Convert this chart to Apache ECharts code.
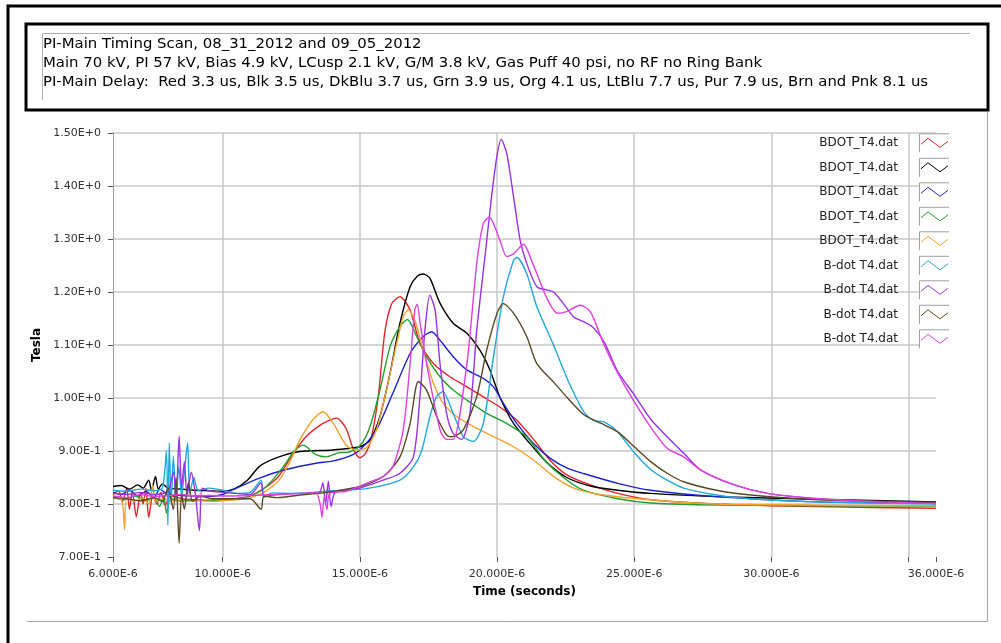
<!DOCTYPE html>
<html><head><meta charset="utf-8">
<script src="https://cdn.jsdelivr.net/npm/echarts@6.0.0/dist/echarts.min.js"></script>
<style>html,body{margin:0;padding:0;background:#fff}#c{width:1001px;height:643px}</style>
</head><body><div id="c"></div>
<script>
const titleLines = [
  'PI-Main Timing Scan, 08_31_2012 and 09_05_2012',
  'Main 70 kV, PI 57 kV, Bias 4.9 kV, LCusp 2.1 kV, G/M 3.8 kV, Gas Puff 40 psi, no RF no Ring Bank',
  'PI-Main Delay:  Red 3.3 us, Blk 3.5 us, DkBlu 3.7 us, Grn 3.9 us, Org 4.1 us, LtBlu 7.7 us, Pur 7.9 us, Brn and Pnk 8.1 us'
];
const xAxisTitle = 'Time (seconds)';
const yAxisTitle = 'Tesla';
const xTickValues = [6, 10, 15, 20, 25, 30, 35, 36];
const xLabelValues = [6, 10, 15, 20, 25, 30, 36];
const yMin = 0.7, yMax = 1.5, yStep = 0.1;

const seriesNames = ['Red', 'Black', 'DkBlu', 'Grn', 'Org', 'LtBlu', 'Pur', 'Brn', 'Pnk'];
const legendLabels = ['BDOT_T4.dat', 'BDOT_T4.dat', 'BDOT_T4.dat', 'BDOT_T4.dat', 'BDOT_T4.dat',
  'B-dot T4.dat', 'B-dot T4.dat', 'B-dot T4.dat', 'B-dot T4.dat'];
const seriesColors = ['#e5232a', '#000000', '#1f22cc', '#22a02e', '#f2a42a', '#22a8e0', '#9a32e6', '#5a4a22', '#e040e0'];

// [time in microseconds, Tesla]
const red = [[6.0,0.818],[6.2,0.825],[6.35,0.805],[6.5,0.83],[6.6,0.79],[6.7,0.825],[6.85,0.776],[7.0,0.822],[7.1,0.80],[7.2,0.83],[7.3,0.775],[7.45,0.815],[7.6,0.80],[7.75,0.822],[7.9,0.797],[8.1,0.815],[8.5,0.81],[9.0,0.808],[9.5,0.807],[10.0,0.808],[10.6,0.811],[11.0,0.815],[11.6,0.833],[12.0,0.85],[12.3,0.873],[12.7,0.905],[13.05,0.928],[13.5,0.947],[13.8,0.956],[14.15,0.962],[14.5,0.942],[14.75,0.905],[15.0,0.887],[15.2,0.895],[15.4,0.92],[15.67,1.003],[15.91,1.125],[16.16,1.178],[16.46,1.191],[16.83,1.166],[17.19,1.103],[17.68,1.065],[18.28,1.04],[18.9,1.021],[19.5,1.002],[20.1,0.983],[20.72,0.958],[21.33,0.922],[21.94,0.882],[22.54,0.855],[23.4,0.836],[24.4,0.82],[25.6,0.808],[28.0,0.80],[31.7,0.795],[36.0,0.792]];
const black = [[6.0,0.833],[6.3,0.835],[6.6,0.828],[6.9,0.836],[7.1,0.83],[7.3,0.845],[7.4,0.826],[7.55,0.852],[7.65,0.828],[7.8,0.838],[8.0,0.83],[8.5,0.828],[9.0,0.826],[9.5,0.825],[10.0,0.824],[10.4,0.828],[10.9,0.845],[11.34,0.871],[11.95,0.887],[12.8,0.899],[14.0,0.902],[15.0,0.908],[15.36,0.92],[15.73,0.965],[16.1,1.047],[16.46,1.141],[16.83,1.21],[17.1,1.23],[17.31,1.234],[17.55,1.226],[17.92,1.179],[18.4,1.141],[18.9,1.122],[19.38,1.09],[19.74,1.053],[20.1,1.002],[20.6,0.952],[21.2,0.914],[21.8,0.879],[22.54,0.85],[23.4,0.834],[24.4,0.826],[25.6,0.82],[28.0,0.814],[31.7,0.809],[36.0,0.804]];
const blue = [[6.0,0.822],[6.3,0.818],[6.6,0.826],[6.9,0.815],[7.2,0.824],[7.5,0.812],[7.7,0.828],[8.0,0.818],[8.5,0.816],[9.0,0.815],[9.5,0.814],[10.0,0.818],[10.37,0.827],[11.34,0.849],[12.3,0.865],[13.4,0.877],[14.0,0.881],[14.6,0.89],[15.0,0.902],[15.6,0.94],[16.2,1.009],[16.83,1.084],[17.31,1.116],[17.62,1.125],[17.92,1.109],[18.4,1.078],[18.9,1.053],[19.5,1.037],[19.87,1.021],[20.23,0.99],[20.72,0.952],[21.33,0.914],[21.94,0.886],[22.54,0.868],[23.18,0.857],[24.4,0.839],[25.6,0.826],[28.0,0.814],[31.7,0.804],[36.0,0.802]];
const green = [[6.0,0.812],[6.4,0.808],[6.8,0.815],[7.2,0.806],[7.5,0.812],[7.7,0.795],[7.85,0.815],[7.95,0.783],[8.1,0.81],[8.5,0.806],[9.0,0.807],[9.5,0.806],[10.0,0.808],[10.8,0.812],[11.4,0.825],[11.83,0.846],[12.3,0.877],[12.6,0.9],[12.93,0.911],[13.4,0.893],[13.78,0.889],[14.27,0.897],[14.5,0.897],[15.0,0.91],[15.36,0.945],[15.73,1.015],[16.1,1.097],[16.46,1.135],[16.73,1.148],[17.07,1.116],[17.43,1.078],[17.92,1.04],[18.4,1.015],[18.9,0.996],[19.62,0.971],[20.35,0.952],[21.08,0.927],[21.7,0.885],[22.42,0.85],[23.15,0.826],[24.4,0.81],[25.6,0.802],[28.0,0.798],[36.0,0.796]];
const orange = [[6.0,0.812],[6.2,0.815],[6.35,0.80],[6.42,0.752],[6.5,0.81],[6.8,0.806],[7.1,0.812],[7.3,0.80],[7.45,0.835],[7.55,0.805],[7.8,0.81],[8.2,0.806],[8.7,0.805],[9.2,0.806],[9.7,0.805],[10.0,0.806],[10.8,0.81],[11.5,0.822],[12.07,0.846],[12.5,0.885],[12.8,0.92],[13.3,0.96],[13.66,0.974],[14.03,0.952],[14.5,0.911],[14.88,0.902],[15.24,0.906],[15.6,0.94],[15.97,1.015],[16.34,1.103],[16.58,1.153],[16.76,1.166],[17.0,1.147],[17.31,1.09],[17.68,1.028],[18.04,0.99],[18.53,0.965],[19.14,0.946],[19.87,0.927],[20.6,0.908],[21.33,0.883],[22.06,0.852],[22.79,0.83],[23.76,0.818],[25.58,0.808],[28.0,0.80],[36.0,0.797]];
const lightBlue = [[6.0,0.826],[6.5,0.824],[7.0,0.828],[7.5,0.825],[7.8,0.83],[7.95,0.90],[8.0,0.76],[8.05,0.915],[8.12,0.80],[8.2,0.89],[8.3,0.81],[8.4,0.87],[8.5,0.815],[8.6,0.86],[8.72,0.915],[8.8,0.82],[8.95,0.85],[9.1,0.826],[9.5,0.83],[10.0,0.826],[10.5,0.82],[11.0,0.822],[11.4,0.845],[11.5,0.812],[11.8,0.821],[12.5,0.82],[13.3,0.822],[14.0,0.825],[15.24,0.829],[16.46,0.845],[16.95,0.87],[17.25,0.90],[17.55,0.965],[17.8,1.003],[18.02,1.012],[18.4,0.971],[18.77,0.927],[19.14,0.918],[19.5,0.952],[19.87,1.078],[20.23,1.191],[20.6,1.26],[20.72,1.265],[21.08,1.235],[21.45,1.172],[22.06,1.10],[22.57,1.035],[23.15,0.975],[23.5,0.958],[23.9,0.955],[24.4,0.936],[24.98,0.898],[25.6,0.865],[26.2,0.845],[26.8,0.83],[28.0,0.817],[29.25,0.81],[31.7,0.804],[36.0,0.80]];
const purple = [[6.0,0.82],[6.5,0.818],[7.0,0.822],[7.5,0.818],[8.0,0.824],[8.2,0.86],[8.3,0.81],[8.41,0.928],[8.5,0.83],[8.6,0.88],[8.7,0.815],[8.85,0.86],[9.0,0.82],[9.15,0.75],[9.25,0.83],[9.5,0.825],[10.0,0.822],[10.5,0.82],[11.0,0.818],[11.4,0.84],[11.5,0.815],[12.0,0.818],[12.8,0.82],[13.5,0.82],[13.65,0.84],[13.75,0.80],[13.85,0.843],[13.95,0.795],[14.1,0.822],[15.0,0.83],[15.85,0.845],[16.46,0.858],[16.95,0.889],[17.19,1.003],[17.37,1.128],[17.55,1.194],[17.74,1.166],[17.92,1.065],[18.16,0.971],[18.4,0.933],[18.71,0.922],[19.01,0.971],[19.26,1.128],[19.56,1.267],[19.8,1.38],[19.99,1.455],[20.15,1.488],[20.35,1.462],[20.6,1.38],[20.84,1.298],[21.08,1.254],[21.45,1.21],[21.82,1.204],[22.06,1.20],[22.42,1.178],[22.79,1.153],[23.15,1.144],[23.5,1.133],[23.9,1.106],[24.4,1.05],[25.0,1.006],[25.6,0.96],[26.2,0.927],[26.8,0.896],[27.43,0.864],[28.65,0.836],[29.86,0.82],[31.7,0.81],[34.1,0.804],[36.0,0.801]];
const brown = [[6.0,0.812],[6.5,0.81],[7.0,0.806],[7.5,0.812],[7.8,0.805],[8.0,0.83],[8.2,0.79],[8.3,0.85],[8.41,0.726],[8.5,0.82],[8.6,0.79],[8.75,0.84],[8.9,0.805],[9.2,0.815],[9.6,0.81],[10.0,0.81],[11.0,0.81],[11.4,0.79],[11.5,0.815],[12.0,0.812],[12.8,0.817],[13.5,0.82],[14.2,0.825],[15.0,0.833],[15.85,0.852],[16.46,0.889],[16.83,0.952],[17.13,1.031],[17.43,1.015],[17.8,0.965],[18.16,0.93],[18.34,0.927],[18.77,0.94],[19.26,1.003],[19.62,1.09],[20.0,1.16],[20.23,1.178],[20.6,1.16],[21.08,1.116],[21.45,1.065],[22.06,1.03],[22.57,1.0],[23.18,0.968],[23.8,0.952],[24.4,0.936],[25.0,0.908],[25.6,0.88],[26.2,0.858],[26.8,0.842],[28.0,0.826],[29.25,0.817],[31.7,0.808],[36.0,0.803]];
const pink = [[6.0,0.815],[6.5,0.812],[7.0,0.818],[7.5,0.814],[8.0,0.816],[8.5,0.818],[9.0,0.815],[9.5,0.816],[10.0,0.815],[11.0,0.816],[12.0,0.818],[13.0,0.82],[13.4,0.822],[13.55,0.80],[13.62,0.775],[13.7,0.815],[13.8,0.79],[13.9,0.82],[14.5,0.824],[15.24,0.839],[15.85,0.852],[16.2,0.87],[16.58,0.94],[16.83,1.065],[17.0,1.166],[17.09,1.177],[17.2,1.14],[17.43,1.065],[17.92,0.94],[18.16,0.922],[18.4,0.922],[18.9,1.065],[19.26,1.254],[19.5,1.33],[19.72,1.341],[20.1,1.298],[20.35,1.267],[20.6,1.272],[20.96,1.29],[21.3,1.254],[21.8,1.19],[22.2,1.16],[22.54,1.163],[23.03,1.175],[23.4,1.163],[23.88,1.103],[24.4,1.047],[25.0,0.993],[25.6,0.945],[26.2,0.905],[26.8,0.889],[27.43,0.864],[28.65,0.836],[29.86,0.82],[31.7,0.81],[34.1,0.804],[36.0,0.801]];
const seriesData = [red, black, blue, green, orange, lightBlue, purple, brown, pink];

const FONT = 'DejaVu Sans';
const chart = echarts.init(document.getElementById('c'), null, {renderer: 'canvas'});

function fmtY(v) {
  if (v >= 0.9999) return v.toFixed(2) + 'E+0';
  return (v * 10).toFixed(2) + 'E-1';
}
function fmtX(v) { return v.toFixed(3) + 'E-6'; }

// frame + legend graphics
const graphics = [
  {type: 'rect', z: 0, shape: {x: 8, y: 6, width: 1100, height: 700}, style: {fill: null, stroke: '#000', lineWidth: 3}},
  {type: 'rect', z: 0, shape: {x: 26, y: 24, width: 962, height: 86}, style: {fill: null, stroke: '#000', lineWidth: 3}},
  {type: 'polyline', z: 0, shape: {points: [[42.5, 100], [42.5, 33.5], [970, 33.5]]}, style: {fill: null, stroke: '#b0b0b0', lineWidth: 1}},
  {type: 'polyline', z: 0, shape: {points: [[27, 621.5], [987.5, 621.5], [987.5, 112]]}, style: {fill: null, stroke: '#a8a8a8', lineWidth: 1}}
];
seriesNames.forEach((n, i) => {
  const c = 143.3 + i * 24.5;
  graphics.push({type: 'text', z: 50, style: {x: 898, y: c, text: legendLabels[i], align: 'right', verticalAlign: 'middle', font: '12px "' + FONT + '"', fill: '#222'}});
  graphics.push({type: 'rect', z: 50, shape: {x: 919.5, y: c - 9.5, width: 30, height: 18}, style: {fill: '#fff', stroke: null}});
  graphics.push({type: 'polyline', z: 51, shape: {points: [[919.5, c + 9], [919.5, c - 9.5], [949, c - 9.5]]}, style: {fill: null, stroke: '#a0a0a0', lineWidth: 1}});
  graphics.push({type: 'polyline', z: 51, shape: {points: [[921, c + 1], [928, c - 5], [940, c + 4], [948, c - 2]]}, style: {fill: null, stroke: seriesColors[i], lineWidth: 1}});
});

const option = {
  animation: false,
  backgroundColor: '#fff',
  textStyle: {fontFamily: FONT},
  title: {
    text: titleLines.join('\n'),
    left: 43, top: 35, padding: 0,
    textStyle: {fontFamily: FONT, fontSize: 14.9, fontWeight: 'normal', color: '#000', lineHeight: 19}
  },
  grid: {left: 113, top: 133, width: 823, height: 424, containLabel: false},
  xAxis: {
    type: 'value', min: 6, max: 36,
    name: xAxisTitle, nameLocation: 'middle', nameGap: 29,
    nameTextStyle: {fontFamily: FONT, fontSize: 12, fontWeight: 'bold', color: '#000'},
    axisLine: {show: false},
    axisTick: {show: true, customValues: xTickValues, length: 5, lineStyle: {color: '#555'}},
    axisLabel: {customValues: xLabelValues, formatter: fmtX, margin: 12, color: '#333', fontSize: 11, fontFamily: FONT},
    splitLine: {show: true, lineStyle: {color: ['rgba(0,0,0,0)', '#c8c8c8', '#c8c8c8', '#c8c8c8', '#c8c8c8', '#c8c8c8', '#c8c8c8', 'rgba(0,0,0,0)'], width: 1.5}}
  },
  yAxis: {
    type: 'value', min: yMin, max: yMax, interval: yStep,
    name: yAxisTitle, nameLocation: 'middle', nameGap: 62, nameRotate: 90,
    nameTextStyle: {fontFamily: FONT, fontSize: 12, fontWeight: 'bold', color: '#000'},
    axisLine: {show: true, lineStyle: {color: '#a0a0a0', width: 1}},
    axisTick: {show: true, length: 5, lineStyle: {color: '#555'}},
    axisLabel: {formatter: fmtY, margin: 12, color: '#333', fontSize: 11, fontFamily: FONT},
    splitLine: {show: true, lineStyle: {color: ['rgba(0,0,0,0)', '#c8c8c8', '#c8c8c8', '#c8c8c8', '#c8c8c8', '#c8c8c8', '#c8c8c8', '#c8c8c8', '#c8c8c8'], width: 1.5}}
  },
  series: seriesNames.map((n, i) => ({
    name: n, type: 'line', data: seriesData[i], showSymbol: false, symbol: 'none',
    smooth: 0.25, lineStyle: {color: seriesColors[i], width: 1.4}, itemStyle: {color: seriesColors[i]}, z: 2 + i
  })),
  graphic: graphics
};
chart.setOption(option);
</script>
</body></html>
